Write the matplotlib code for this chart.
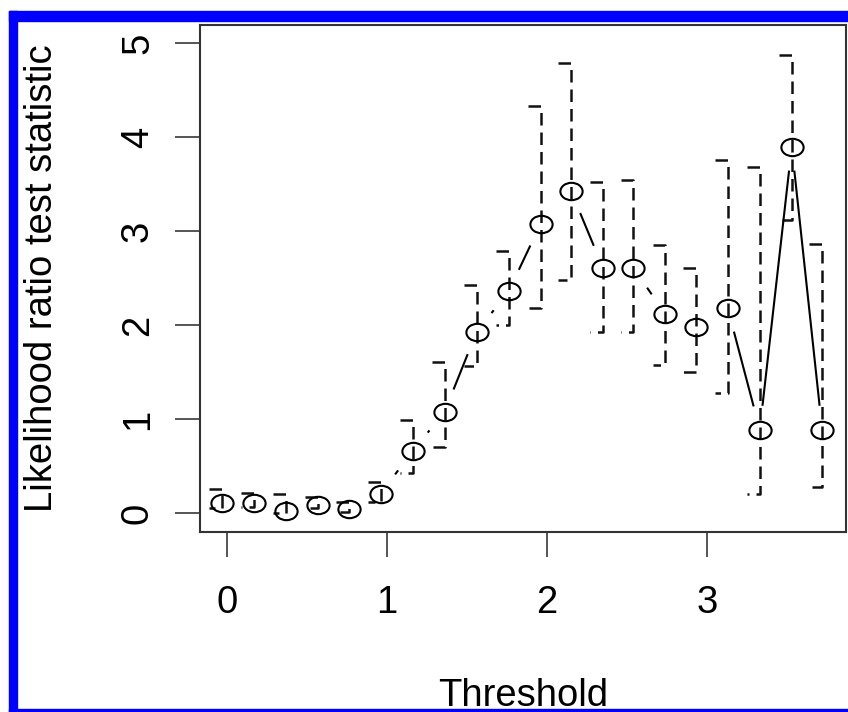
import numpy as np
import matplotlib
matplotlib.use('Agg')
import matplotlib.pyplot as plt
from matplotlib.path import Path
from matplotlib.transforms import Affine2D
from matplotlib.patches import Rectangle

plt.rcParams['font.family'] = ['Liberation Sans', 'DejaVu Sans']

# values
threshold = [-0.03, 0.17, 0.37, 0.57, 0.76, 0.96, 1.16, 1.36, 1.56, 1.76,
             1.96, 2.15, 2.35, 2.54, 2.74, 2.93, 3.13, 3.33, 3.53, 3.72]
lr_stat = [0.11, 0.11, 0.02, 0.09, 0.05, 0.21, 0.66, 1.08, 1.93, 2.36,
           3.08, 3.43, 2.61, 2.61, 2.12, 1.98, 2.18, 0.89, 3.90, 0.89]
ci_upper = [0.26, 0.22, 0.21, 0.17, 0.12, 0.33, 0.99, 1.61, 2.43, 2.79,
            4.33, 4.79, 3.52, 3.55, 2.85, 2.61, 3.76, 3.68, 4.88, 2.86]
ci_lower = [0.06, 0.07, 0.00, 0.06, 0.01, 0.12, 0.43, 0.71, 1.57, 2.00,
            2.18, 2.48, 1.93, 1.93, 1.58, 1.50, 1.28, 0.21, 3.12, 0.28]

W, H = 848, 712
fig = plt.figure(figsize=(W / 100, H / 100), dpi=100)
ax = fig.add_axes([200 / W, 1 - 532 / H, 646 / W, 507 / H])
ax.set_xlim(-0.169, 3.869)
ax.set_ylim(-0.199, 5.195)

# dashed "]" brackets for the intervals
w = 0.08
for x, lo, hi in zip(threshold, ci_lower, ci_upper):
    ax.plot([x - w, x, x, x - w], [hi, hi, lo, lo], color='#111111', lw=1.8,
            ls=(0, (5, 2.8)), dash_capstyle='butt')

# lines between points, leaving a gap round each point (R type="b")
trans = ax.transData
pts = trans.transform(np.column_stack([threshold, lr_stat]))
gap = 24
for p0, p1 in zip(pts[:-1], pts[1:]):
    d = p1 - p0
    L = np.hypot(*d)
    if L <= 2 * gap:
        continue
    u = d / L
    seg = trans.inverted().transform(np.array([p0 + u * gap, p1 - u * gap]))
    ax.plot(seg[:, 0], seg[:, 1], color='k', lw=1.5, solid_capstyle='butt')

ellipse = Path.unit_circle().transformed(Affine2D().scale(1.28, 1.0))
ax.plot(threshold, lr_stat, ls='none', marker=ellipse, ms=16,
        mfc='none', mec='k', mew=1.5)

ax.set_xticks([0, 1, 2, 3])
ax.set_yticks([0, 1, 2, 3, 4, 5])
ax.tick_params(direction='out', length=18, width=1.4, color='#555555',
               labelsize=27.5)
ax.tick_params(axis='x', pad=20)
ax.tick_params(axis='y', pad=13.7, labelrotation=90)
for lbl in ax.get_yticklabels():
    lbl.set_va('center')
for s in ax.spines.values():
    s.set_color('#333333')
    s.set_linewidth(1.5)

ax.set_xlabel('Threshold', fontsize=27.5)
ax.xaxis.set_label_coords(0.5, -0.287)
ax.set_ylabel('Likelihood ratio test statistic', fontsize=27.5)
ax.yaxis.set_label_coords(-0.2167, 0.5)

# blue frame round the screenshot
blue = '#0000ff'
fig.patches.append(Rectangle((9 / W, 0), 8 / W, (H - 11) / H, color=blue,
                             transform=fig.transFigure, figure=fig))
fig.patches.append(Rectangle((9 / W, 1 - 21 / H), (W - 9) / W, 10 / H, color=blue,
                             transform=fig.transFigure, figure=fig))
fig.patches.append(Rectangle((9 / W, 0), (W - 9) / W, 3 / H, color=blue,
                             transform=fig.transFigure, figure=fig))

fig.savefig('out.png', dpi=100)
